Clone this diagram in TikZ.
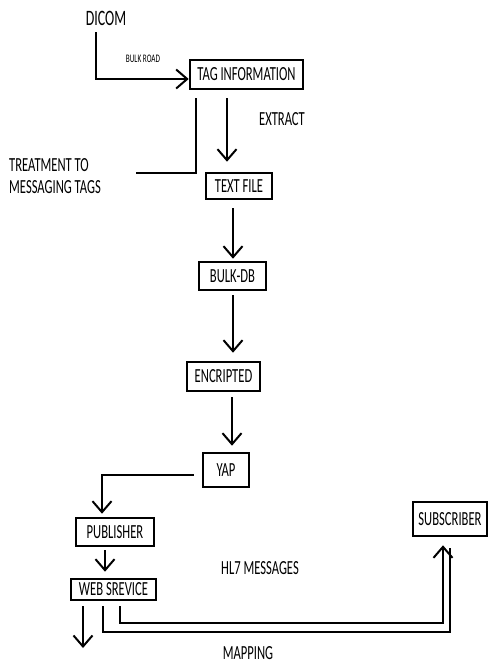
\documentclass[tikz,border=0pt]{standalone}
\usepackage{fontspec}
\newfontfamily\diagfont{Carlito}[FakeStretch=0.63]
\usetikzlibrary{arrows.meta}

\begin{document}
\begin{tikzpicture}[x=1pt, y=-1pt,
  every node/.style = {font=\diagfont\fontsize{20}{22.5}\selectfont,
                       inner sep=0pt},
  box/.style  = {draw, line width=2.6pt},
  link/.style = {line width=2pt},
  arr/.style  = {link, -{Straight Barb[length=11pt,width=19pt,line width=2pt]}},
  ]
  \useasboundingbox (0,0) rectangle (488,667);

  % labels
  \node (dicom) at (106,18) [font=\diagfont\fontsize{22}{24}\selectfont] {DICOM};
  \node (bulkroad) at (143,59) [font=\diagfont\fontsize{11.5}{12}\selectfont] {BULK ROAD};
  \node (extract) at (282,119) {EXTRACT};
  \node[align=left, anchor=west] (treat) at (9,176) {TREATMENT TO\\MESSAGING TAGS};
  \node (hl7) at (260,568) {HL7 MESSAGES};
  \node (mapping) at (248,653) {MAPPING};

  % boxes
  \node[box, minimum width=113pt, minimum height=29pt] (tag) at (246.5,74.5) {TAG INFORMATION};
  \node[box, minimum width=66pt, minimum height=26pt] (textfile) at (239,186) {TEXT FILE};
  \node[box, minimum width=67pt, minimum height=28pt] (bulkdb) at (232.5,276) {BULK-DB};
  \node[box, minimum width=73pt, minimum height=29pt] (encr) at (223.5,376.5) {ENCRIPTED};
  \node[box, minimum width=46pt, minimum height=34pt] (yap) at (226,470) {YAP};
  \node[box, minimum width=78pt, minimum height=28pt] (pub) at (115,532) {PUBLISHER};
  \node[box, minimum width=85pt, minimum height=21pt] (web) at (113.5,589.5) {WEB SREVICE};
  \node[box, minimum width=74pt, minimum height=34pt] (sub) at (450,519) {SUBSCRIBER};

  \coordinate (treatend) at (136,173);
  \coordinate (webend) at (83,648);

  % connectors
  \draw[arr] ([xshift=-10pt,yshift=-7pt]dicom.south) |- ([yshift=-4.5pt]tag.west);
  \draw[arr, shorten <=8pt, shorten >=10pt] ([xshift=-19.5pt]tag.south) -- ([xshift=-12pt]textfile.north);
  \draw[link, shorten <=8pt] ([xshift=7pt]tag.south west) |- (treatend);
  \draw[arr, shorten <=8pt, shorten >=2pt] ([xshift=-6pt]textfile.south) -- ([xshift=0.5pt]bulkdb.north);
  \draw[arr, shorten <=4pt, shorten >=8pt] ([xshift=0.5pt]bulkdb.south) -- ([xshift=9.5pt]encr.north);
  \draw[arr, shorten <=5pt, shorten >=6pt] ([xshift=8.5pt]encr.south) -- ([xshift=6pt]yap.north);
  \draw[arr, shorten >=3pt] ([xshift=-8pt,yshift=-5pt]yap.west) -| ([xshift=-13pt]pub.north);
  \draw[arr, shorten <=3pt, shorten >=6pt] ([xshift=-10pt]pub.south) -- ([xshift=-8.5pt]web.north);
  \draw[arr, shorten <=5pt] ([xshift=-30.5pt]web.south) -- (webend);
  \draw[arr, shorten >=8pt] ([xshift=6.5pt,yshift=-5pt]web.south)
    -- ([xshift=6.5pt,yshift=-22pt]web.south) -| ([xshift=-7pt]sub.south);
  \draw[link] ([xshift=-10.5pt,yshift=-5pt]web.south)
    -- ([xshift=-10.5pt,yshift=-31pt]web.south) -| ([yshift=-11pt]sub.south);
\end{tikzpicture}
\end{document}
